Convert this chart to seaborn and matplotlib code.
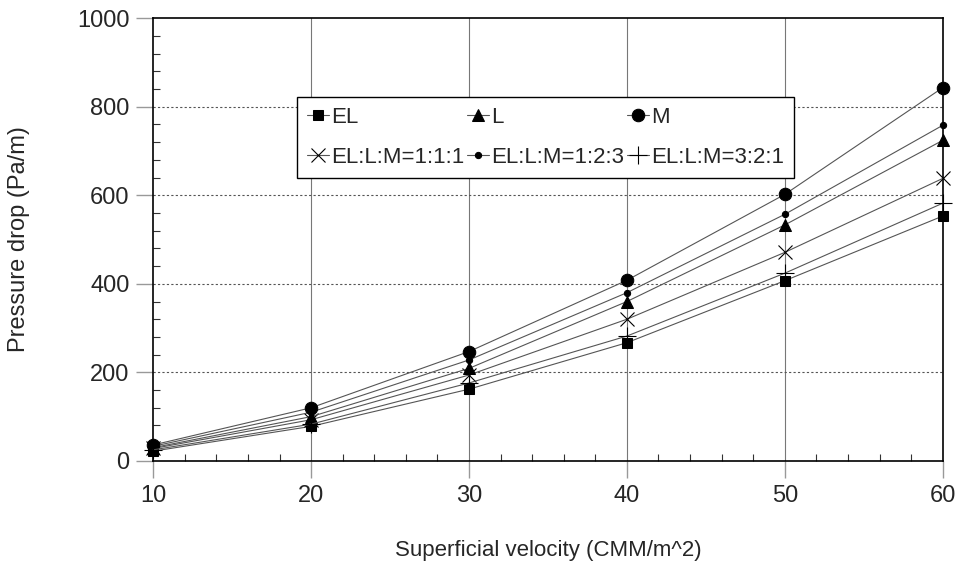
import pandas as pd
import seaborn as sns
import matplotlib.pyplot as plt
from matplotlib.ticker import MultipleLocator

# superficial velocity (CMM/m^2)
velocity = [10, 20, 30, 40, 50, 60]

# pressure drop (Pa/m)
el = [22, 78, 162, 267, 407, 553]
l = [30, 100, 209, 360, 533, 724]
m = [36, 120, 247, 408, 602, 843]
mix_111 = [28, 93, 194, 320, 471, 638]
mix_123 = [33, 110, 228, 380, 557, 758]
mix_321 = [25, 83, 176, 282, 424, 582]

series_names = ["EL", "EL:L:M=1:1:1", "L", "EL:L:M=1:2:3", "M", "EL:L:M=3:2:1"]
series_values = [el, mix_111, l, mix_123, m, mix_321]


def main():
    sns.set_theme(style="white")
    plt.rcParams['font.family'] = ['Liberation Sans', 'DejaVu Sans']

    fig, ax = plt.subplots(figsize=(9.58, 5.69), dpi=100)
    fig.subplots_adjust(left=0.160, right=0.984, bottom=0.190, top=0.968)

    # marker styling per series
    styles = {
        "EL": dict(marker="s", markersize=6.5),
        "L": dict(marker="^", markersize=8),
        "M": dict(marker="o", markersize=9),
        "EL:L:M=1:1:1": dict(marker="x", markersize=10, markeredgewidth=0.8),
        "EL:L:M=1:2:3": dict(marker="o", markersize=4.5),
        "EL:L:M=3:2:1": dict(marker="+", markersize=13, markeredgewidth=0.8),
    }

    for name, values in zip(series_names, series_values):
        df = pd.DataFrame({"velocity": velocity, "drop": values})
        sns.lineplot(data=df, x="velocity", y="drop", ax=ax, label=name,
                     color="#555555", linewidth=0.8,
                     markerfacecolor="black", markeredgecolor="black",
                     clip_on=False, zorder=3, **styles[name])

    ax.set_xlim(10, 60)
    ax.set_ylim(0, 1000)
    ax.xaxis.set_major_locator(MultipleLocator(10))
    ax.xaxis.set_minor_locator(MultipleLocator(2))
    ax.yaxis.set_major_locator(MultipleLocator(200))
    ax.yaxis.set_minor_locator(MultipleLocator(40))

    # grid: solid verticals, dotted horizontals
    for xv in [20, 30, 40, 50]:
        ax.axvline(xv, color="#777777", linewidth=0.8, zorder=1)
    for yv in [200, 400, 600, 800]:
        ax.axhline(yv, color="#555555", linewidth=0.8, linestyle=(0, (2, 2)), zorder=1)

    for side in ["left", "bottom", "top", "right"]:
        ax.spines[side].set_color("black")
        ax.spines[side].set_linewidth(1.2)

    ax.tick_params(axis="both", which="major", direction="out", length=12,
                   width=1, color="#999999", labelsize=17, pad=5)
    ax.tick_params(axis="both", which="minor", direction="in", length=5,
                   width=0.8, color="#333333")
    ax.tick_params(left=True, bottom=True, which="both")

    ax.set_xlabel("Superficial velocity (CMM/m^2)", fontsize=16, labelpad=24)
    ax.set_ylabel("Pressure drop (Pa/m)", fontsize=17, labelpad=34)

    leg = ax.legend(ncol=3, loc="upper left", bbox_to_anchor=(0.182, 0.822),
                    fontsize=16, frameon=True, fancybox=False, framealpha=1,
                    edgecolor="black", handlelength=1.0, handletextpad=0.1,
                    columnspacing=0.1, borderpad=0.45, labelspacing=0.85,
                    borderaxespad=0)
    leg.get_frame().set_linewidth(1.0)
    leg.set_zorder(5)

    plt.savefig("out.png", dpi=100)


if __name__ == "__main__":
    main()
